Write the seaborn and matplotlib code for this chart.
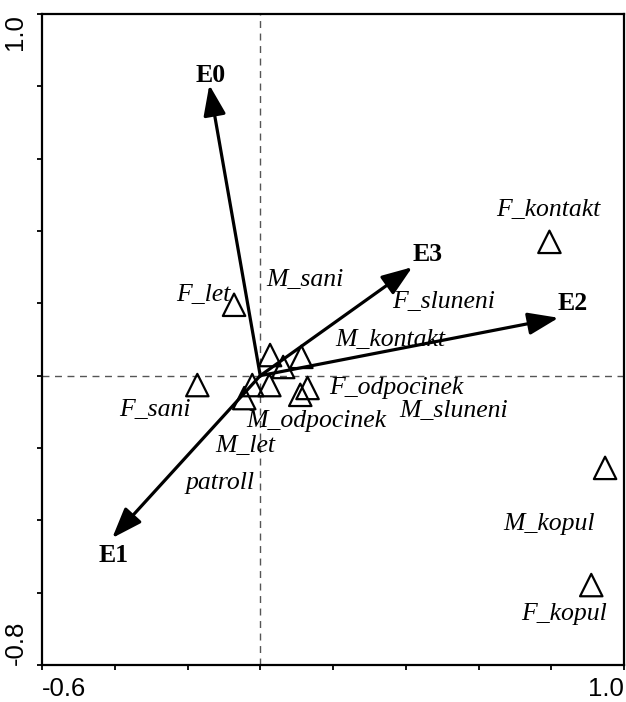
import matplotlib
matplotlib.use("Agg")
import matplotlib.pyplot as plt
import matplotlib.transforms as mtransforms
import seaborn as sns
import pandas as pd

# Environmental variable arrows (tips)
env_names = ["E0", "E1", "E2", "E3"]
env_x = [-0.14, -0.407, 0.82, 0.418]
env_y = [0.804, -0.449, 0.16, 0.30]
env_label_x = [-0.137, -0.404, 0.860, 0.459]
env_label_y = [0.831, -0.496, 0.200, 0.335]

# Sample points (triangles)
pt_x = [0.795, -0.072, -0.173, 0.948, 0.91, 0.027, 0.113, 0.063, -0.022, 0.025, 0.13, 0.11, -0.044]
pt_y = [0.37, 0.196, -0.026, -0.255, -0.579, 0.057, 0.052, 0.024, -0.026, -0.026, -0.034, -0.053, -0.062]

# Labels of samples
lab_names = ["F_kontakt", "F_let", "M_sani", "F_sluneni", "M_kontakt", "F_odpocinek",
             "M_sluneni", "M_odpocinek", "F_sani", "M_let", "patroll", "M_kopul", "F_kopul"]
lab_x = [0.793, -0.156, 0.124, 0.503, 0.357, 0.374, 0.531, 0.154, -0.289, -0.041, -0.110, 0.795, 0.836]
lab_y = [0.458, 0.223, 0.264, 0.204, 0.099, -0.034, -0.097, -0.125, -0.095, -0.194, -0.297, -0.410, -0.659]

x_ticks = [-0.6, -0.4, -0.2, 0.0, 0.2, 0.4, 0.6, 0.8, 1.0]
x_ticklabels = ["-0.6", "", "", "", "", "", "", "", "1.0"]
y_ticks = [-0.8, -0.6, -0.4, -0.2, 0.0, 0.2, 0.4, 0.6, 0.8, 1.0]
y_ticklabels = ["-0.8", "", "", "", "", "", "", "", "", "1.0"]

sns.set_style("white")
plt.rcParams["font.family"] = ["Liberation Sans", "DejaVu Sans"]
plt.rcParams["text.color"] = "black"
plt.rcParams["xtick.color"] = "black"
plt.rcParams["ytick.color"] = "black"

fig = plt.figure(figsize=(6.26, 7.02), dpi=100)
ax = fig.add_axes([42 / 626, 1 - 665 / 702, (624 - 42) / 626, (665 - 14) / 702])

ax.axvline(0, color="#555555", lw=1.0, ls=(0, (5, 4)), zorder=1)
ax.axhline(0, color="#555555", lw=1.0, ls=(0, (5, 4)), zorder=1)

pts = pd.DataFrame({"x": pt_x, "y": pt_y})
sns.scatterplot(data=pts, x="x", y="y", marker="^", s=260, color="black",
                facecolor="none", edgecolor="black", linewidth=1.6, ax=ax, zorder=3)

for name, ex, ey, lx, ly in zip(env_names, env_x, env_y, env_label_x, env_label_y):
    ax.annotate("", xy=(ex, ey), xytext=(0, 0),
                arrowprops=dict(arrowstyle="-|>,head_length=0.6,head_width=0.22",
                                lw=2.3, color="black", mutation_scale=31,
                                shrinkA=0, shrinkB=0), zorder=4)
    ax.text(lx, ly, name, ha="center", va="center", fontsize=18.5, color="black",
            fontweight="bold", family=["Liberation Serif", "DejaVu Serif"], zorder=5)

for name, lx, ly in zip(lab_names, lab_x, lab_y):
    ax.text(lx, ly, name, ha="center", va="center", fontsize=18.5, color="black",
            style="italic", family=["Liberation Serif", "DejaVu Serif"], zorder=5)

ax.set_xlim(-0.6, 1.0)
ax.set_ylim(-0.8, 1.0)
ax.set_xticks(x_ticks)
ax.set_xticklabels(x_ticklabels, fontsize=18.5)
ax.set_yticks(y_ticks)
ax.set_yticklabels(y_ticklabels, fontsize=18.5, rotation=90)
ax.set_xlabel("")
ax.set_ylabel("")

xl = ax.get_xticklabels()
xl[0].set_ha("left")
xl[-1].set_ha("right")
yl = ax.get_yticklabels()
for t in yl:
    t.set_va("center")
yl[0].set_va("bottom")
yl[-1].set_va("top")
yl[0].set_transform(yl[0].get_transform() + mtransforms.ScaledTranslation(0, 3 / 100, fig.dpi_scale_trans))
yl[-1].set_transform(yl[-1].get_transform() + mtransforms.ScaledTranslation(0, -4 / 100, fig.dpi_scale_trans))

ax.tick_params(axis="both", direction="out", length=3.5, width=1.3, color="black",
               bottom=True, left=True, labelcolor="black")
ax.tick_params(axis="x", pad=5)
ax.tick_params(axis="y", pad=7)
for s in ax.spines.values():
    s.set_color("black")
    s.set_linewidth(1.6)

fig.savefig("out.png", dpi=100)
